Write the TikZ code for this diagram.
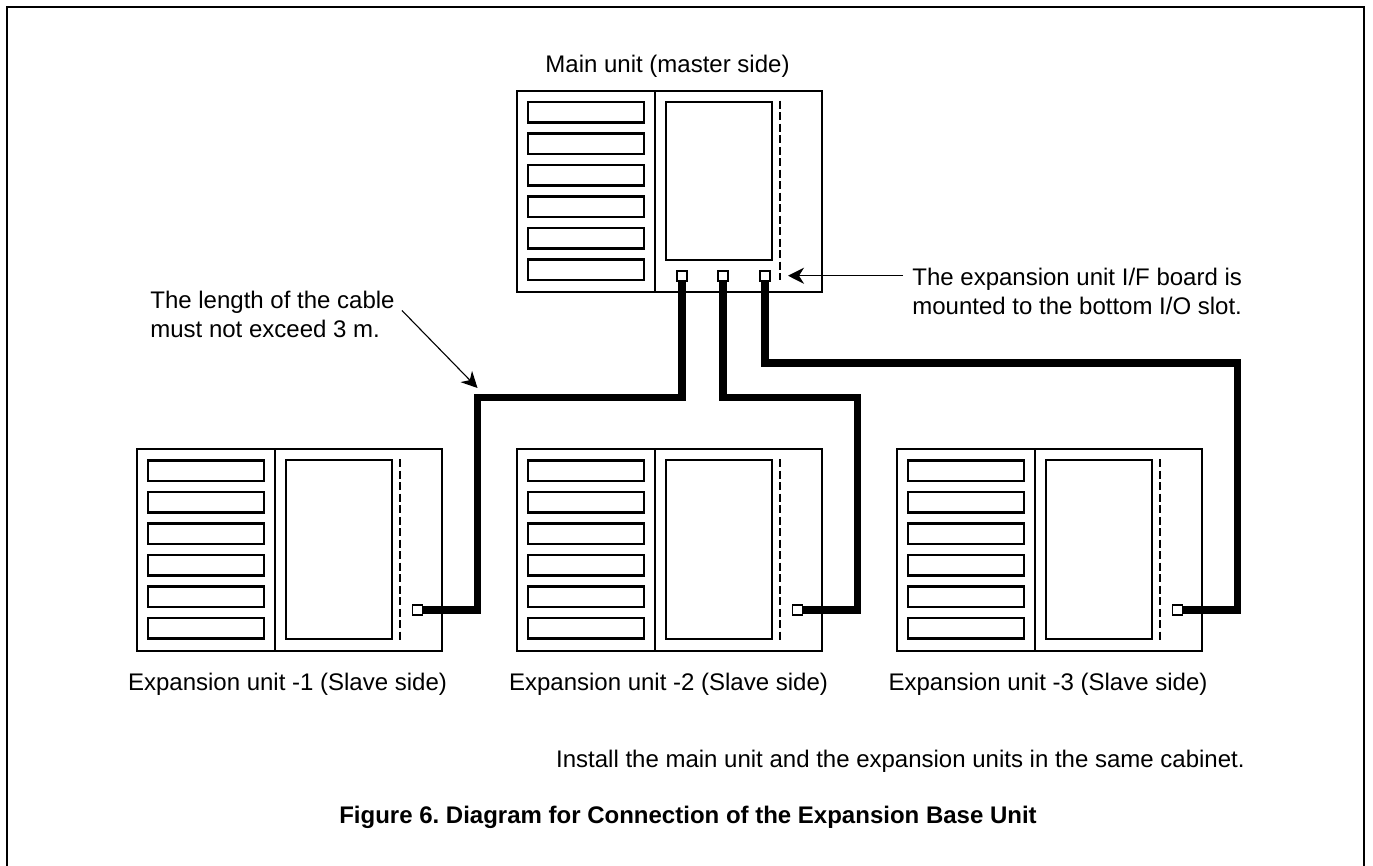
\documentclass[tikz,border=0pt]{standalone}
\usepackage{fontspec}
\setmainfont{Liberation Sans}
\usetikzlibrary{arrows.meta}

\begin{document}
\begin{tikzpicture}[
    x=0.5pt, y=-0.5pt,
    unitbox/.style={draw, rectangle, line width=1pt, minimum width=152.5pt, minimum height=100.75pt, inner sep=0pt, outer sep=0pt},
    slotbox/.style={draw, rectangle, line width=1.25pt, minimum width=57.8pt, minimum height=10.3pt, inner sep=0pt, outer sep=0pt, anchor=north west},
    screenbox/.style={draw, rectangle, line width=1pt, minimum width=53pt, inner sep=0pt, outer sep=0pt, anchor=north west},
    port/.style={draw, rectangle, fill=white, line width=0.9pt, minimum size=5pt, inner sep=0pt, outer sep=0pt},
    cable/.style={line width=3.9pt},
    rail/.style={line width=1pt, dash pattern=on 4pt off 1.75pt},
    pointer/.style={->, line width=0.55pt},
    txt/.style={font=\fontsize{12}{14.5}\selectfont, inner sep=0pt},
    >={Stealth[length=8pt, width=8pt, inset=2.5pt]}
]
    \useasboundingbox (0,0) rectangle (1373,866);

    % Frame round the figure (open at the bottom)
    \draw[line width=1pt] (7,866) -- (7,7) -- (1364,7) -- (1364,866);

    % Main unit and expansion units
    \foreach \name/\cx/\cy/\sh/\dl in {main/669.5/191.5/79pt/179, exp1/289.5/550/89.5pt/181, exp2/669.5/550/89.5pt/181, exp3/1049.5/550/89.5pt/181} {
        \node[unitbox] (\name) at (\cx,\cy) {};
        \draw[line width=1pt] ([xshift=69pt]\name.north west) -- ([xshift=69pt]\name.south west);
        \foreach \k in {0,...,5}
            \node[slotbox] (\name-slot\k) at ([shift={(11.2,11.2+31.5*\k)}]\name.north west) {};
        \node[screenbox, minimum height=\sh] (\name-screen) at ([shift={(149,11)}]\name.north west) {};
        \draw[rail] ([shift={(263,10)}]\name.north west) -- ++(0,\dl);
    }

    % Ports
    \foreach \i/\dx in {1/165, 2/206, 3/248}
        \node[port] (mp\i) at ([shift={(\dx,185)}]main.north west) {};
    \foreach \i in {1,2,3}
        \node[port] (ep\i) at ([shift={(280.5,160.5)}]exp\i.north west) {};

    % Cables
    \coordinate (bend1) at (477.5,397.5);
    \coordinate (bend2) at (857.5,397.5);
    \coordinate (bend3) at (1237.5,363);
    \draw[cable] (mp1.south) |- (bend1) |- (ep1.east);
    \draw[cable] (mp2.south) |- (bend2) |- (ep2.east);
    \draw[cable] (mp3.south) |- (bend3) |- (ep3.east);

    % Unit labels
    \node[txt, anchor=base] (mainlabel) at (667.5,73) {Main unit (master side)};
    \foreach \i/\cx in {1/287.5, 2/668.5, 3/1048}
        \node[txt, anchor=base] (explabel\i) at (\cx,690) {Expansion unit -\i{} (Slave side)};

    % Notes
    \node[txt, align=left, anchor=north west, inner xsep=4.5pt] (ifnote) at (903,267.5)
        {The expansion unit I/F board is\\mounted to the bottom I/O slot.};
    \draw[pointer] (ifnote.west |- mp3) -- ([xshift=11.5pt]mp3.center);

    \node[txt, align=left, anchor=north west, inner xsep=3.5pt] (cablenote) at (143,290.5)
        {The length of the cable\\must not exceed 3 m.};
    \draw[pointer] ([yshift=-10pt]cablenote.north east) -- ([yshift=4.75pt]bend1);

    \node[txt, anchor=base east] (cabinet) at (1245,768)
        {Install the main unit and the expansion units in the same cabinet.};

    % Caption
    \node[txt, font=\fontsize{12}{14.5}\selectfont\bfseries, anchor=base] (caption) at (688,823)
        {\frenchspacing Figure 6. Diagram for Connection of the Expansion Base Unit};
\end{tikzpicture}
\end{document}
